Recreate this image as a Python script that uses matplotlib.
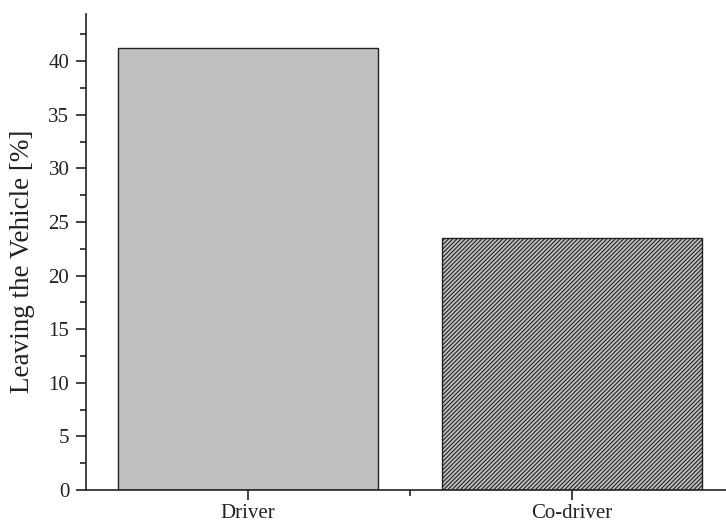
import matplotlib
matplotlib.use("Agg")
import matplotlib.pyplot as plt
from matplotlib.ticker import MultipleLocator

# Daten
categories = ["Driver", "Co-driver"]
values = [41.2, 23.5]
hatches = ["", "/" * 8]

plt.rcParams['font.family'] = ['Liberation Serif', 'DejaVu Serif']
plt.rcParams['hatch.linewidth'] = 0.8
plt.rcParams['hatch.color'] = '#555555'

fig = plt.figure(figsize=(7.26, 5.27), dpi=100)
ax = fig.add_axes([0.1185, 0.0702, 0.8815, 0.9032])

x = range(len(categories))
for xi, v, h in zip(x, values, hatches):
    ax.bar(xi, v, width=0.8, color='#c0c0c0', edgecolor='#222222',
           linewidth=1.0, hatch=h)

ax.set_xlim(-0.5, 1.475)
ax.set_ylim(0, 44.4)
ax.set_xticks(list(x))
ax.set_xticklabels(categories)
ax.set_xticks([0.5], minor=True)
ax.yaxis.set_major_locator(MultipleLocator(5))
ax.yaxis.set_minor_locator(MultipleLocator(2.5))

ax.spines['top'].set_visible(False)
ax.spines['right'].set_visible(False)
for s in ['left', 'bottom']:
    ax.spines[s].set_linewidth(1.2)
    ax.spines[s].set_color('#222222')

ax.tick_params(axis='both', which='major', direction='out', length=7,
               width=1.2, labelsize=15, colors='#222222')
ax.tick_params(axis='both', which='minor', direction='out', length=4,
               width=1.2, colors='#222222')
ax.tick_params(axis='x', pad=3)
ax.tick_params(axis='y', pad=5)

ax.set_ylabel("Leaving the Vehicle [%]", fontsize=19.5, color='#222222')
ax.yaxis.set_label_coords(-0.08, 0.48)

fig.savefig("out.png", dpi=100)
